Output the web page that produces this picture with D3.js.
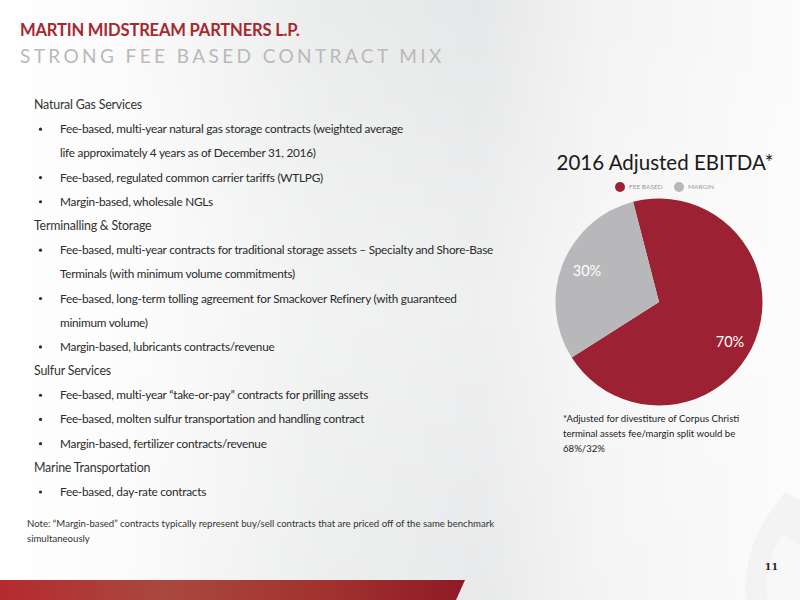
<!DOCTYPE html>
<html><head><meta charset="utf-8">
<script src="https://cdn.jsdelivr.net/npm/d3@7"></script>
<style>html,body{margin:0;padding:0;background:#fff;}svg{display:block;}</style>
</head><body>
<script>
// ---- data ----
const categories = ["FEE BASED", "MARGIN"];
const values = [70, 30];
const sliceLabels = ["70%", "30%"];
const sliceColors = ["#9c2132", "#b8b8ba"];
const chartTitle = "2016 Adjusted EBITDA*";
const footnote = ["*Adjusted for divestiture of Corpus Christi", "terminal assets fee/margin split would be", "68%/32%"];
const bodyLines = [
  ["h", "Natural Gas Services"],
  ["b", "Fee-based, multi-year natural gas storage contracts (weighted average"],
  ["c", "life approximately 4 years as of December 31, 2016)"],
  ["b", "Fee-based, regulated common carrier tariffs (WTLPG)"],
  ["b", "Margin-based, wholesale NGLs"],
  ["h", "Terminalling & Storage"],
  ["b", "Fee-based, multi-year contracts for traditional storage assets – Specialty and Shore-Base"],
  ["c", "Terminals (with minimum volume commitments)"],
  ["b", "Fee-based, long-term tolling agreement for Smackover Refinery (with guaranteed"],
  ["c", "minimum volume)"],
  ["b", "Margin-based, lubricants contracts/revenue"],
  ["h", "Sulfur Services"],
  ["b", "Fee-based, multi-year “take-or-pay” contracts for prilling assets"],
  ["b", "Fee-based, molten sulfur transportation and handling contract"],
  ["b", "Margin-based, fertilizer contracts/revenue"],
  ["h", "Marine Transportation"],
  ["b", "Fee-based, day-rate contracts"]
];
const noteLines = ["Note:  “Margin-based”  contracts typically represent buy/sell contracts that are priced off of the same benchmark", "simultaneously"];
const companyTitle = "MARTIN MIDSTREAM PARTNERS L.P.";
const subTitle = "STRONG FEE BASED CONTRACT MIX";
const pageNumber = "11";

// ---- drawing ----
const W = 800, H = 600;
const font = "Lato, 'Open Sans', sans-serif";
const svg = d3.select("body").append("svg").attr("width", W).attr("height", H);
const defs = svg.append("defs");

const bg = defs.append("linearGradient").attr("id", "bg").attr("x1", 0).attr("x2", 1).attr("y1", 0).attr("y2", 0);
[[0, "#ffffff"], [0.15, "#fbfbfb"], [0.4, "#ebecec"], [0.6, "#e6e7e8"], [0.75, "#f3f3f3"], [1, "#fbfbfb"]]
  .forEach(([o, c]) => bg.append("stop").attr("offset", o).attr("stop-color", c));
svg.append("rect").attr("width", W).attr("height", H).attr("fill", "url(#bg)");
const bgv = defs.append("linearGradient").attr("id", "bgv").attr("x1", 0).attr("x2", 0).attr("y1", 0).attr("y2", 1);
[[0, "#ffffff", 0], [0.5, "#ffffff", 0.35], [1, "#ffffff", 0.1]]
  .forEach(([o, c, a]) => bgv.append("stop").attr("offset", o).attr("stop-color", c).attr("stop-opacity", a));
svg.append("rect").attr("width", W).attr("height", H).attr("fill", "url(#bgv)");

// watermark flame (faint)
const wm = svg.append("g").attr("opacity", 0.5);
wm.append("path").attr("fill", "#ececec").attr("d", "M785,492 C758,525 742,560 746,600 L800,600 L800,500 Z");
wm.append("path").attr("fill", "#f7f7f7").attr("d", "M782,535 C768,555 764,578 768,600 L800,600 L800,545 Z");

// bottom red bar
const rg = defs.append("linearGradient").attr("id", "rb").attr("x1", 0).attr("x2", 1);
[[0, "#b52a2e"], [0.35, "#a94840"], [0.7, "#a2322f"], [1, "#8f1a26"]]
  .forEach(([o, c]) => rg.append("stop").attr("offset", o).attr("stop-color", c));
svg.append("path").attr("d", "M0,580 L465,580 L456,600 L0,600 Z").attr("fill", "url(#rb)");

// titles
svg.append("text").attr("x", 20).attr("y", 36).attr("font-family", font).attr("font-weight", 700)
  .attr("font-size", 16.6).attr("letter-spacing", -0.2).attr("fill", "#a5292f").text(companyTitle);
svg.append("text").attr("x", 20).attr("y", 63).attr("font-family", font).attr("font-weight", 400)
  .attr("font-size", 19).attr("letter-spacing", 3.4).attr("fill", "#b9b9b9").text(subTitle);

// body text
const by = d3.scalePoint().domain(d3.range(bodyLines.length)).range([109, 496]);
const body = svg.append("g").attr("font-family", font).attr("font-size", 11.8).attr("letter-spacing", -0.25).attr("fill", "#2a2a2a");
bodyLines.forEach((d, i) => {
  const [t, s] = d;
  if (t === "h") {
    body.append("text").attr("x", 34).attr("y", by(i)).attr("font-size", 12.4).attr("letter-spacing", -0.2).attr("fill", "#333").text(s);
  } else {
    if (t === "b") body.append("circle").attr("cx", 40.5).attr("cy", by(i) - 4).attr("r", 1.6).attr("fill", "#2a2a2a");
    body.append("text").attr("x", 60).attr("y", by(i)).text(s);
  }
});
svg.append("g").attr("font-family", font).attr("font-size", 9.6).attr("fill", "#333")
  .selectAll("text").data(noteLines).join("text")
  .attr("x", 27).attr("y", (d, i) => 527 + i * 15).text(d => d);

// chart
const cx = 659, cy = 302, r = 103.5;
svg.append("text").attr("x", 665).attr("y", 170).attr("text-anchor", "middle").attr("font-family", font)
  .attr("font-size", 20.5).attr("fill", "#1a1a1a").text(chartTitle);

const legX = d3.scalePoint().domain(categories).range([620, 679]);
const leg = svg.append("g").selectAll("g").data(categories).join("g")
  .attr("transform", d => `translate(${legX(d)},187)`);
leg.append("circle").attr("r", 5).attr("fill", (d, i) => sliceColors[i]);
leg.append("text").attr("x", 9).attr("y", 2.3).attr("font-family", font).attr("font-size", 6.5)
  .attr("fill", "#999").text(d => d);

const start = -14.5 * Math.PI / 180;
const pie = d3.pie().sort(null).startAngle(start).endAngle(start + 2 * Math.PI);
const arcs = pie(values);
const arc = d3.arc().innerRadius(0).outerRadius(r);
const g = svg.append("g").attr("transform", `translate(${cx},${cy})`);
g.selectAll("path").data(arcs).join("path").attr("d", arc).attr("fill", (d, i) => sliceColors[i]);
const labelArc = d3.arc().innerRadius(r * 0.8).outerRadius(r * 0.8);
const labelOffsets = [[-6, 9], [5, -1]];
g.selectAll("text").data(arcs).join("text")
  .attr("x", (d, i) => labelArc.centroid(d)[0] + labelOffsets[i][0])
  .attr("y", (d, i) => labelArc.centroid(d)[1] + labelOffsets[i][1])
  .attr("text-anchor", "middle").attr("dominant-baseline", "central")
  .attr("font-family", font).attr("font-size", 14.5).attr("fill", "#fff").text((d, i) => sliceLabels[i]);

svg.append("g").attr("font-family", font).attr("font-size", 9.6).attr("fill", "#222")
  .selectAll("text").data(footnote).join("text")
  .attr("x", 563).attr("y", (d, i) => 422 + i * 15).text(d => d);

svg.append("text").attr("x", 778).attr("y", 570).attr("text-anchor", "end").attr("font-family", "'DejaVu Serif', serif")
  .attr("font-weight", 700).attr("font-size", 9.5).attr("fill", "#222").text(pageNumber);
</script>
</body></html>
